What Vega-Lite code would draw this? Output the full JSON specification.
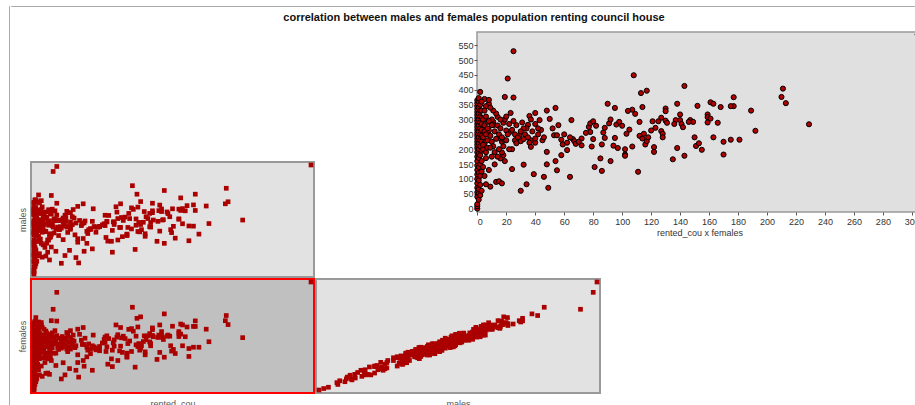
{
  "$schema": "https://vega.github.io/schema/vega-lite/v6.json",
  "padding": {"left": 8, "top": 5, "right": 0, "bottom": 0},
  "background": "white",
  "config": {
    "font": "Liberation Sans",
    "view": {"stroke": null},
    "axis": {"labelFont": "Liberation Sans", "titleFont": "Liberation Sans"}
  },
  "datasets": {
    "pop": [
      {"r":25,"m":582,"f":530},{"r":21,"m":555,"f":438},{"r":108,"m":478,"f":449},{"r":143,"m":452,"f":413},{"r":211,"m":464,"f":404},
      {"r":210,"m":380,"f":376},{"r":213,"m":391,"f":355},{"r":117,"m":392,"f":397},{"r":113,"m":432,"f":389},{"r":229,"m":292,"f":284},
      {"r":177,"m":432,"f":375},{"r":177,"m":344,"f":345},{"r":175,"m":374,"f":345},{"r":189,"m":368,"f":330},{"r":192,"m":273,"f":262},
      {"r":168,"m":370,"f":342},{"r":161,"m":412,"f":358},{"r":163,"m":354,"f":353},{"r":159,"m":351,"f":317},{"r":159,"m":298,"f":308},
      {"r":161,"m":344,"f":303},{"r":159,"m":297,"f":290},{"r":166,"m":342,"f":289},{"r":152,"m":353,"f":346},{"r":138,"m":373,"f":353},
      {"r":130,"m":383,"f":337},{"r":130,"m":332,"f":328},{"r":140,"m":352,"f":317},{"r":95,"m":380,"f":339},{"r":90,"m":364,"f":353},
      {"r":107,"m":358,"f":333},{"r":104,"m":328,"f":329},{"r":109,"m":350,"f":319},{"r":114,"m":362,"f":342},{"r":19,"m":425,"f":376},
      {"r":25,"m":383,"f":374},{"r":23,"m":342,"f":322},{"r":22,"m":299,"f":256},{"r":40,"m":332,"f":322},{"r":36,"m":339,"f":312},
      {"r":43,"m":349,"f":298},{"r":40,"m":282,"f":285},{"r":48,"m":366,"f":330},{"r":50,"m":290,"f":302},{"r":54,"m":380,"f":339},
      {"r":56,"m":287,"f":281},{"r":65,"m":353,"f":298},{"r":52,"m":262,"f":270},{"r":53,"m":272,"f":247},{"r":55,"m":277,"f":247},
      {"r":27,"m":291,"f":281},{"r":35,"m":306,"f":282},{"r":34,"m":318,"f":270},{"r":14,"m":307,"f":309},{"r":11,"m":324,"f":292},
      {"r":11,"m":268,"f":281},{"r":18,"m":329,"f":289},{"r":20,"m":268,"f":263},{"r":5,"m":428,"f":369},{"r":8,"m":349,"f":353},
      {"r":8,"m":397,"f":366},{"r":32,"m":303,"f":270},{"r":29,"m":256,"f":247},{"r":30,"m":248,"f":227},{"r":32,"m":280,"f":234},
      {"r":37,"m":225,"f":230},{"r":40,"m":250,"f":222},{"r":45,"m":212,"f":230},{"r":46,"m":276,"f":240},{"r":59,"m":219,"f":216},
      {"r":62,"m":246,"f":197},{"r":58,"m":166,"f":180},{"r":66,"m":257,"f":234},{"r":67,"m":254,"f":227},{"r":68,"m":226,"f":218},
      {"r":72,"m":258,"f":236},{"r":72,"m":256,"f":213},{"r":77,"m":272,"f":275},{"r":78,"m":318,"f":287},{"r":80,"m":282,"f":294},
      {"r":82,"m":317,"f":279},{"r":78,"m":262,"f":258},{"r":80,"m":285,"f":234},{"r":79,"m":198,"f":209},{"r":87,"m":282,"f":256},
      {"r":88,"m":268,"f":238},{"r":88,"m":282,"f":272},{"r":86,"m":236,"f":216},{"r":91,"m":335,"f":287},{"r":92,"m":300,"f":300},
      {"r":96,"m":306,"f":283},{"r":98,"m":290,"f":292},{"r":100,"m":308,"f":279},{"r":95,"m":252,"f":238},{"r":94,"m":252,"f":212},
      {"r":97,"m":202,"f":204},{"r":102,"m":212,"f":200},{"r":102,"m":216,"f":182},{"r":103,"m":252,"f":252},{"r":105,"m":300,"f":266},
      {"r":107,"m":244,"f":209},{"r":112,"m":298,"f":292},{"r":112,"m":264,"f":245},{"r":114,"m":230,"f":236},{"r":115,"m":279,"f":252},
      {"r":116,"m":228,"f":216},{"r":117,"m":268,"f":227},{"r":118,"m":240,"f":240},{"r":120,"m":280,"f":263},{"r":121,"m":338,"f":294},
      {"r":122,"m":204,"f":207},{"r":122,"m":218,"f":191},{"r":123,"m":310,"f":272},{"r":125,"m":300,"f":294},{"r":127,"m":328,"f":306},
      {"r":127,"m":256,"f":261},{"r":128,"m":279,"f":252},{"r":128,"m":254,"f":240},{"r":130,"m":342,"f":296},{"r":131,"m":292,"f":289},
      {"r":135,"m":177,"f":166},{"r":137,"m":343,"f":298},{"r":136,"m":285,"f":285},{"r":138,"m":232,"f":204},{"r":140,"m":338,"f":298},
      {"r":141,"m":292,"f":285},{"r":142,"m":294,"f":274},{"r":143,"m":166,"f":178},{"r":147,"m":327,"f":298},{"r":149,"m":310,"f":292},
      {"r":146,"m":336,"f":292},{"r":150,"m":240,"f":240},{"r":151,"m":224,"f":211},{"r":153,"m":258,"f":220},{"r":155,"m":194,"f":198},
      {"r":163,"m":272,"f":240},{"r":170,"m":260,"f":225},{"r":170,"m":180,"f":182},{"r":175,"m":259,"f":232},{"r":181,"m":216,"f":232},
      {"r":92,"m":184,"f":160},{"r":85,"m":177,"f":169},{"r":81,"m":178,"f":140},{"r":86,"m":118,"f":127},{"r":111,"m":133,"f":124},
      {"r":64,"m":136,"f":107},{"r":49,"m":60,"f":70},{"r":48,"m":172,"f":149},{"r":54,"m":192,"f":160},{"r":55,"m":123,"f":129},
      {"r":39,"m":128,"f":116},{"r":46,"m":89,"f":107},{"r":34,"m":100,"f":82},{"r":30,"m":58,"f":60},{"r":32,"m":186,"f":148},
      {"r":24,"m":123,"f":133},{"r":13,"m":97,"f":90},{"r":15,"m":118,"f":92},{"r":17,"m":76,"f":85},{"r":9,"m":91,"f":74},
      {"r":6,"m":110,"f":82},{"r":12,"m":144,"f":149},{"r":16,"m":184,"f":169},{"r":19,"m":146,"f":160},{"r":18,"m":203,"f":180},
      {"r":17,"m":198,"f":189},{"r":8,"m":166,"f":130},{"r":10,"m":283,"f":281},{"r":8,"m":278,"f":263},{"r":102,"m":208,"f":178},
      {"r":48,"m":191,"f":191},{"r":26,"m":254,"f":230},{"r":24,"m":242,"f":200},{"r":17,"m":218,"f":225},{"r":16,"m":264,"f":236},
      {"r":19,"m":214,"f":230},{"r":36,"m":254,"f":222},{"r":40,"m":242,"f":236},{"r":37,"m":256,"f":208},
      {"r":0,"m":0,"f":0},{"r":0,"m":10,"f":8},{"r":0,"m":20,"f":15},{"r":0,"m":38,"f":40},{"r":0,"m":70,"f":55},{"r":0,"m":66,"f":70},
      {"r":0,"m":104,"f":85},{"r":0,"m":96,"f":100},{"r":0,"m":140,"f":115},{"r":0,"m":118,"f":130},{"r":0,"m":170,"f":145},
      {"r":0,"m":158,"f":160},{"r":0,"m":210,"f":175},{"r":0,"m":184,"f":190},{"r":0,"m":222,"f":205},{"r":0,"m":250,"f":215},
      {"r":0,"m":225,"f":225},{"r":0,"m":263,"f":235},{"r":0,"m":232,"f":245},{"r":0,"m":289,"f":255},{"r":0,"m":273,"f":265},
      {"r":0,"m":326,"f":275},{"r":0,"m":280,"f":285},{"r":0,"m":320,"f":295},{"r":0,"m":342,"f":305},{"r":0,"m":326,"f":315},
      {"r":0,"m":355,"f":325},{"r":0,"m":384,"f":335},{"r":0,"m":348,"f":345},{"r":0,"m":388,"f":355},{"r":0,"m":360,"f":365},
      {"r":1,"m":40,"f":30},{"r":1,"m":44,"f":50},{"r":1,"m":77,"f":65},{"r":1,"m":82,"f":95},{"r":1,"m":144,"f":120},
      {"r":1,"m":140,"f":140},{"r":1,"m":213,"f":170},{"r":1,"m":174,"f":185},{"r":1,"m":218,"f":200},{"r":1,"m":251,"f":220},
      {"r":1,"m":244,"f":240},{"r":1,"m":286,"f":260},{"r":1,"m":325,"f":280},{"r":1,"m":300,"f":300},{"r":1,"m":350,"f":320},
      {"r":1,"m":333,"f":340},{"r":1,"m":401,"f":360},{"r":1,"m":388,"f":372},
      {"r":2,"m":55,"f":45},{"r":2,"m":66,"f":80},{"r":2,"m":125,"f":110},{"r":2,"m":131,"f":150},{"r":2,"m":208,"f":180},
      {"r":2,"m":214,"f":210},{"r":2,"m":278,"f":230},{"r":2,"m":243,"f":250},{"r":2,"m":293,"f":270},{"r":2,"m":325,"f":290},
      {"r":2,"m":320,"f":310},{"r":2,"m":360,"f":330},{"r":2,"m":401,"f":350},{"r":2,"m":400,"f":393},
      {"r":3,"m":69,"f":60},{"r":3,"m":107,"f":125},{"r":3,"m":220,"f":195},{"r":3,"m":235,"f":225},{"r":3,"m":290,"f":245},
      {"r":3,"m":264,"f":265},{"r":3,"m":304,"f":285},{"r":3,"m":347,"f":305},{"r":3,"m":336,"f":330},{"r":3,"m":391,"f":360},
      {"r":4,"m":238,"f":200},{"r":4,"m":237,"f":240},{"r":4,"m":329,"f":300},{"r":5,"m":205,"f":220},{"r":5,"m":294,"f":260},
      {"r":5,"m":288,"f":280},{"r":6,"m":235,"f":190},{"r":6,"m":243,"f":250},{"r":6,"m":336,"f":310},{"r":7,"m":262,"f":230},
      {"r":7,"m":277,"f":270},{"r":3,"m":180,"f":160},{"r":4,"m":176,"f":140},{"r":5,"m":98,"f":110},{"r":6,"m":189,"f":170},
      {"r":7,"m":189,"f":205},{"r":6,"m":385,"f":345},{"r":5,"m":342,"f":330},{"r":4,"m":261,"f":215},{"r":7,"m":288,"f":292},
      {"r":9,"m":265,"f":245},{"r":10,"m":256,"f":225},{"r":10,"m":308,"f":300},{"r":11,"m":233,"f":210},{"r":12,"m":303,"f":260},
      {"r":13,"m":231,"f":235},{"r":14,"m":306,"f":280},{"r":15,"m":184,"f":200},{"r":15,"m":282,"f":250},{"r":16,"m":278,"f":270},
      {"r":17,"m":288,"f":240},{"r":18,"m":200,"f":210},{"r":19,"m":324,"f":300},{"r":20,"m":262,"f":230},{"r":21,"m":254,"f":250},
      {"r":22,"m":222,"f":200},{"r":12,"m":229,"f":190},{"r":14,"m":167,"f":175},{"r":9,"m":226,"f":205},{"r":10,"m":158,"f":175},
      {"r":8,"m":327,"f":295},{"r":13,"m":336,"f":320},{"r":16,"m":348,"f":300},{"r":11,"m":332,"f":330},{"r":9,"m":363,"f":340},
      {"r":20,"m":351,"f":310},{"r":22,"m":288,"f":285},{"r":24,"m":295,"f":265},{"r":26,"m":289,"f":250},{"r":28,"m":240,"f":240},
      {"r":25,"m":319,"f":295},{"r":27,"m":208,"f":220},{"r":30,"m":290,"f":260},{"r":33,"m":261,"f":250},{"r":35,"m":284,"f":240},
      {"r":38,"m":257,"f":260},{"r":42,"m":267,"f":250},{"r":44,"m":303,"f":265},{"r":31,"m":294,"f":290},{"r":37,"m":332,"f":300},
      {"r":42,"m":310,"f":270},{"r":58,"m":231,"f":232},{"r":62,"m":241,"f":222},{"r":60,"m":240,"f":250},{"r":70,"m":253,"f":225},
      {"r":75,"m":266,"f":255},{"r":64,"m":285,"f":240},
      {"r":304,"m":590,"f":586}
    ]
  },
  "spacing": 0,
  "hconcat": [
    {
      "width": 0.01, "height": 420,
      "data": {"values": []},
      "mark": {"type": "point", "opacity": 0},
      "view": {"stroke": "#aaaaaa", "strokeWidth": 1, "fill": null}
    },
    {
      "spacing": 0,
      "vconcat": [
        {
          "width": 926, "height": 0.01,
          "data": {"values": []},
          "mark": {"type": "point", "opacity": 0},
          "view": {"stroke": "#aaaaaa", "strokeWidth": 1, "fill": null},
          "title": {
            "text": "correlation between males and females population renting council house",
            "orient": "bottom", "anchor": "middle", "offset": 6,
            "fontSize": 11, "fontWeight": "bold", "color": "#111111", "font": "Liberation Sans"
          }
        },
        {
          "spacing": 0,
          "hconcat": [
            {
              "width": 6, "height": 1,
              "data": {"values": []},
              "mark": {"type": "point", "opacity": 0}
            },
            {
              "spacing": 0,
              "vconcat": [
                {
                  "width": 283, "height": 137,
                  "data": {"values": []},
                  "mark": {"type": "point", "opacity": 0}
                },
                {
                  "width": 283, "height": 115,
                  "data": {"name": "pop"},
                  "mark": {"type": "square", "size": 22, "color": "#aa0000", "opacity": 1},
                  "encoding": {
                    "x": {"field": "r", "type": "quantitative", "scale": {"nice": false, "zero": false, "padding": 3}, "axis": null},
                    "y": {"field": "m", "type": "quantitative", "scale": {"nice": false, "zero": false, "padding": 3},
                          "axis": {"title": "males", "labels": false, "ticks": false, "domain": false, "grid": false, "titlePadding": 4, "titleFontSize": 9, "titleFontWeight": "normal", "titleColor": "#555555"}}
                  },
                  "view": {"fill": "#e2e2e2", "stroke": "#999999", "strokeWidth": 2}
                },
                {
                  "width": 283, "height": 114,
                  "data": {"name": "pop"},
                  "mark": {"type": "square", "size": 22, "color": "#aa0000", "opacity": 1},
                  "encoding": {
                    "x": {"field": "r", "type": "quantitative", "scale": {"nice": false, "zero": false, "padding": 3},
                          "axis": {"title": "rented_cou", "labels": false, "ticks": false, "domain": false, "grid": false, "titlePadding": 6, "titleFontSize": 9, "titleFontWeight": "normal", "titleColor": "#555555"}},
                    "y": {"field": "f", "type": "quantitative", "scale": {"nice": false, "zero": false, "padding": 3},
                          "axis": {"title": "females", "labels": false, "ticks": false, "domain": false, "grid": false, "titlePadding": 4, "titleFontSize": 9, "titleFontWeight": "normal", "titleColor": "#555555"}}
                  },
                  "view": {"fill": "#c0c0c0", "stroke": "#ff0000", "strokeWidth": 2}
                }
              ]
            },
            {
              "spacing": 0,
              "vconcat": [
                {
                  "width": 284, "height": 5,
                  "data": {"values": []},
                  "mark": {"type": "point", "opacity": 0}
                },
                {
                  "spacing": 0,
                  "hconcat": [
                    {
                      "width": 141, "height": 180,
                      "data": {"values": []},
                      "mark": {"type": "point", "opacity": 0}
                    },
                    {
                      "width": 445, "height": 180,
                      "data": {"name": "pop"},
                      "mark": {"type": "circle", "size": 26, "fill": "#b00000", "stroke": "#000000", "strokeWidth": 1, "opacity": 1, "fillOpacity": 1},
                      "encoding": {
                        "x": {"field": "r", "type": "quantitative", "scale": {"domain": [-0.2, 307], "nice": false, "zero": false},
                              "axis": {"values": [0,20,40,60,80,100,120,140,160,180,200,220,240,260,280,300], "title": "rented_cou x females", "grid": false, "domain": false,
                                       "tickSize": 3, "tickColor": "#555555", "labelFontSize": 9, "labelColor": "#333333", "labelPadding": 2,
                                       "titleFontSize": 9, "titleFontWeight": "normal", "titleColor": "#333333", "titlePadding": 2}},
                        "y": {"field": "f", "type": "quantitative", "scale": {"domain": [-11.4, 594.6], "nice": false, "zero": false},
                              "axis": {"values": [0,50,100,150,200,250,300,350,400,450,500,550], "title": null, "grid": false, "domain": false,
                                       "tickSize": 3, "tickColor": "#555555", "labelFontSize": 9, "labelColor": "#333333", "labelPadding": 1}}
                      },
                      "view": {"fill": "#e0e0e0", "stroke": "#999999", "strokeWidth": 1.5}
                    }
                  ]
                },
                {
                  "width": 284, "height": 40,
                  "data": {"values": []},
                  "mark": {"type": "point", "opacity": 0}
                },
                {
                  "width": 284, "height": 114,
                  "data": {"name": "pop"},
                  "mark": {"type": "square", "size": 22, "color": "#aa0000", "opacity": 1},
                  "encoding": {
                    "x": {"field": "m", "type": "quantitative", "scale": {"nice": false, "zero": false, "padding": 3},
                          "axis": {"title": "males", "labels": false, "ticks": false, "domain": false, "grid": false, "titlePadding": 6, "titleFontSize": 9, "titleFontWeight": "normal", "titleColor": "#555555"}},
                    "y": {"field": "f", "type": "quantitative", "scale": {"nice": false, "zero": false, "padding": 3}, "axis": null}
                  },
                  "view": {"fill": "#e2e2e2", "stroke": "#999999", "strokeWidth": 2}
                }
              ]
            }
          ]
        }
      ]
    }
  ]
}
